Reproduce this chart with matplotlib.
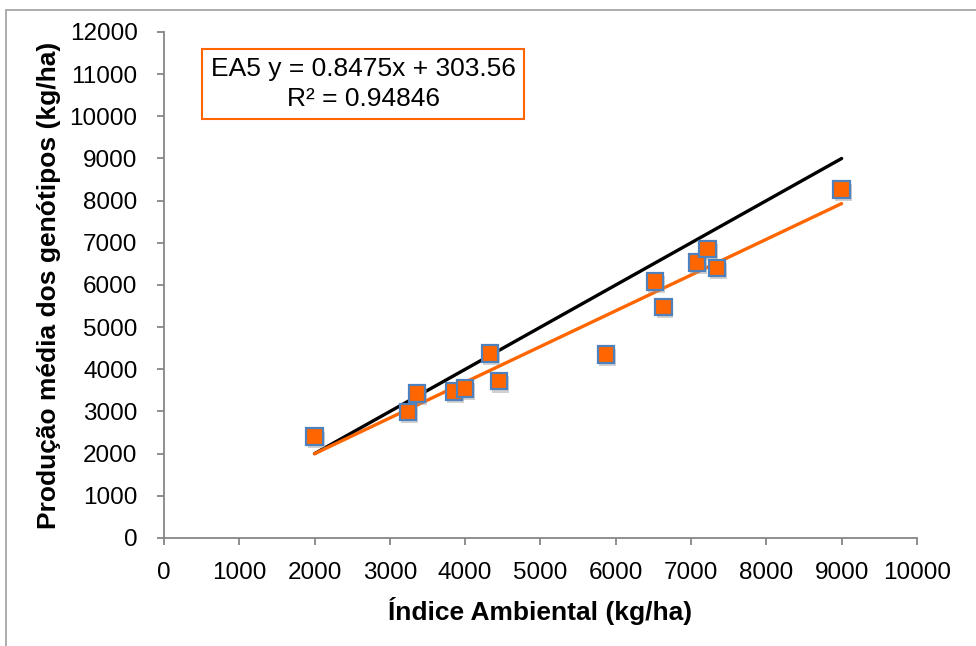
import matplotlib
matplotlib.use("Agg")
import matplotlib.pyplot as plt
import matplotlib.patheffects as pe
from matplotlib.patches import Rectangle
import numpy as np

plt.rcParams['font.family'] = ['Liberation Sans', 'DejaVu Sans']

# indice ambiental x producao media (kg/ha)
indice = [2000, 3240, 3360, 3850, 4000, 4330, 4450, 5870, 6520, 6630, 7080, 7220, 7345, 9000]
producao = [2400, 2990, 3430, 3480, 3550, 4375, 3720, 4355, 6085, 5480, 6530, 6855, 6405, 8260]

slope = 0.8475
intercept = 303.56
r2 = 0.94846
faixa = [2000, 9000]

laranja = '#FF6600'
azul = '#4F81BD'
cinza = '#868686'

fig = plt.figure(figsize=(9.76, 6.46), dpi=100)
ax = fig.add_axes([0.168, 0.1672, 0.7715, 0.7833])

# linha 1:1 e reta ajustada
xs = np.array(faixa, dtype=float)
ax.plot(xs, xs, color='black', lw=2.4, solid_capstyle='round', zorder=2)
ax.plot(xs, slope * xs + intercept, color=laranja, lw=2.4, solid_capstyle='round', zorder=3)

ax.plot(indice, producao, linestyle='none', marker='s', markersize=12,
        markerfacecolor=laranja, markeredgecolor=azul, markeredgewidth=1.6, zorder=4,
        path_effects=[pe.SimplePatchShadow(offset=(1.2, -2.2), shadow_rgbFace='#999999', alpha=0.45),
                      pe.Normal()])

ax.set_xlim(0, 10000)
ax.set_ylim(0, 12000)
ax.set_xticks(range(0, 10001, 1000))
ax.set_yticks(range(0, 12001, 1000))

for s in ['top', 'right']:
    ax.spines[s].set_visible(False)
for s in ['left', 'bottom']:
    ax.spines[s].set_color(cinza)
    ax.spines[s].set_linewidth(1.3)
ax.tick_params(axis='both', direction='out', length=5, width=1.3, color=cinza, labelsize=17.5)
ax.tick_params(axis='y', pad=14)
ax.tick_params(axis='x', pad=12)

ax.set_xlabel('Índice Ambiental (kg/ha)', fontsize=19, fontweight='bold', labelpad=10)
ax.set_ylabel('Produção média dos genótipos (kg/ha)', fontsize=19, fontweight='bold', labelpad=6)

ax.text(2644, 10770, 'EA5 y = {}x + {}\nR² = {}'.format(slope, intercept, r2),
        ha='center', va='center', multialignment='center', fontsize=19, linespacing=1.3,
        bbox=dict(boxstyle='square,pad=0.32', fc='white', ec=laranja, lw=1.5), zorder=5)

# moldura da area do grafico
fig.patches.append(Rectangle((6 / 976, -0.1), 1.2, 1 - 10 / 646 + 0.1, transform=fig.transFigure,
                             fill=False, ec='#a6a6a6', lw=1.3))

fig.savefig('out.png', dpi=100)
